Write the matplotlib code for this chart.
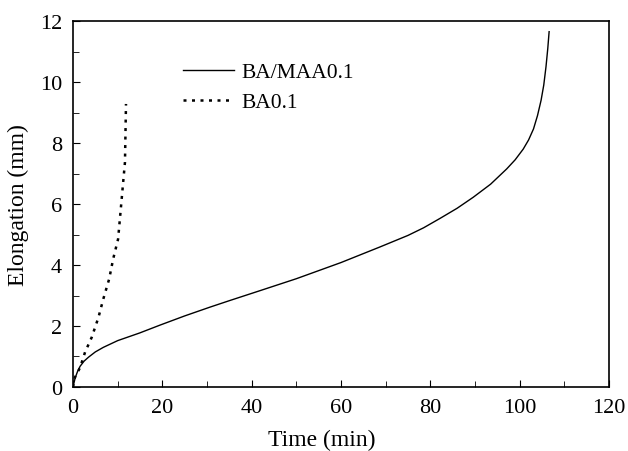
import matplotlib.pyplot as plt

# data
t_bamaa = [0, 0.5, 1, 1.6, 2.5, 3.5, 5, 6.8, 10, 14.9, 19.5, 25, 30.7, 35, 41.9, 50, 60, 68.7,
           75, 78.5, 82.2, 86, 89.6, 93.5, 97.1, 99, 100.8, 102, 103.1, 104, 104.8, 105.4,
           105.9, 106.3, 106.6]
e_bamaa = [0, 0.3, 0.5, 0.68, 0.85, 0.98, 1.15, 1.3, 1.52, 1.77, 2.03, 2.33, 2.62, 2.83, 3.16,
           3.55, 4.08, 4.59, 4.97, 5.22, 5.53, 5.86, 6.22, 6.65, 7.15, 7.45, 7.8, 8.1, 8.46,
           8.9, 9.4, 9.9, 10.5, 11.1, 11.65]

t_ba = [0, 0.45, 1.6, 2.7, 4.2, 5.7, 6.8, 8.1, 9.0, 10.1, 10.67, 11.27, 11.64, 11.87]
e_ba = [0, 0.32, 0.64, 1.14, 1.63, 2.28, 2.89, 3.54, 4.2, 4.85, 5.78, 6.77, 7.37, 9.28]

plt.rcParams['font.family'] = 'Liberation Serif'
plt.rcParams['font.size'] = 16

fig = plt.figure(figsize=(6.28, 4.52), dpi=100)
ax = fig.add_axes([0.1162, 0.1416, 0.8535, 0.8097])

ax.plot(t_bamaa, e_bamaa, color='black', lw=1.0, label='BA/MAA0.1')
ax.plot(t_ba, e_ba, color='black', lw=1.8, linestyle=(0, (1.2, 2.2)), label='BA0.1')

ax.set_xlim(0, 120)
ax.set_ylim(0, 12)
ax.set_xticks(range(0, 121, 20))
ax.set_yticks(range(0, 13, 2))
ax.set_xticks(range(10, 120, 20), minor=True)
ax.set_yticks(range(1, 12, 2), minor=True)
ax.tick_params(which='both', direction='in', top=False, right=False)
ax.tick_params(which='major', length=5, pad=8)
ax.tick_params(which='minor', length=4)
for s in ax.spines.values():
    s.set_linewidth(1.2)

ax.set_xlabel('Time (min)', fontsize=17)
ax.xaxis.set_label_coords(0.4646, -0.115)
ax.set_ylabel('Elongation (mm)', fontsize=17, labelpad=8)

ax.legend(loc='upper left', bbox_to_anchor=(0.17, 0.94), frameon=False,
          handlelength=2.35, handletextpad=0.35, labelspacing=0.45, fontsize=15.5)

fig.savefig('out.png', dpi=100)
